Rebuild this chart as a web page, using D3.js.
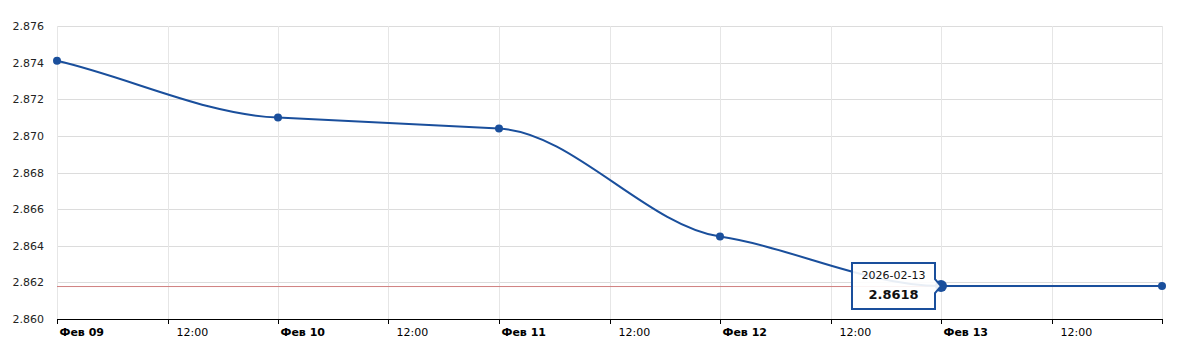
<!DOCTYPE html>
<html>
<head>
<meta charset="utf-8">
<script src="https://cdn.jsdelivr.net/npm/d3@7"></script>
<style>
  body { margin: 0; background: #fff; }
  text { font-family: "DejaVu Sans", Verdana, sans-serif; }
</style>
</head>
<body>
<script>
const dates = ['2026-02-09', '2026-02-10', '2026-02-11', '2026-02-12', '2026-02-13', '2026-02-14'];
const rates = [2.8741, 2.8710, 2.8704, 2.8645, 2.8618, 2.8618];
const yTicks = [2.860, 2.862, 2.864, 2.866, 2.868, 2.870, 2.872, 2.874, 2.876];
const months = ['Янв', 'Фев', 'Мар', 'Апр', 'Май', 'Июн', 'Июл', 'Авг', 'Сен', 'Окт', 'Ноя', 'Дек'];
const selected = 4;

const width = 1186;
const height = 343;
const margin = { top: 26, right: 24, bottom: 24, left: 57 };

const parse = d3.utcParse('%Y-%m-%d');
const data = dates.map((d, i) => ({ date: parse(d), value: rates[i] }));

const svg = d3.select('body').append('svg')
  .attr('width', width)
  .attr('height', height);

const x = d3.scaleUtc()
  .domain(d3.extent(data, d => d.date))
  .range([margin.left, width - margin.right]);

const y = d3.scaleLinear()
  .domain([yTicks[0], yTicks[yTicks.length - 1]])
  .range([height - margin.bottom, margin.top]);

const xTicks = d3.utcHour.every(12).range(x.domain()[0], d3.utcHour.offset(x.domain()[1], 1));

// soft spline: small tangents at inner points, chord-ish tangents at the ends
function softCurve(context) {
  let pts;
  return {
    areaStart() {}, areaEnd() {},
    lineStart() { pts = []; },
    point(px, py) { pts.push([px, py]); },
    lineEnd() {
      const n = pts.length;
      const s = [];
      for (let i = 0; i < n - 1; i++) s.push((pts[i + 1][1] - pts[i][1]) / (pts[i + 1][0] - pts[i][0]));
      const m = pts.map((p, i) => {
        if (i === 0) return s[0] * 0.9;
        if (i === n - 1) return s[n - 2] * 0.5;
        const a = s[i - 1], b = s[i];
        if (a * b <= 0) return 0;
        return 0.5 * 2 * a * b / (a + b);
      });
      context.moveTo(pts[0][0], pts[0][1]);
      for (let i = 0; i < n - 1; i++) {
        const h = (pts[i + 1][0] - pts[i][0]) / 3;
        context.bezierCurveTo(
          pts[i][0] + h, pts[i][1] + m[i] * h,
          pts[i + 1][0] - h, pts[i + 1][1] - m[i + 1] * h,
          pts[i + 1][0], pts[i + 1][1]);
      }
    }
  };
}

// grid
svg.append('g')
  .selectAll('line')
  .data(yTicks)
  .join('line')
  .attr('x1', margin.left)
  .attr('x2', width - margin.right)
  .attr('y1', d => Math.round(y(d)) + 0.5)
  .attr('y2', d => Math.round(y(d)) + 0.5)
  .attr('stroke', '#dcdcdc');

svg.append('g')
  .selectAll('line')
  .data(xTicks)
  .join('line')
  .attr('x1', d => Math.round(x(d)) + 0.5)
  .attr('x2', d => Math.round(x(d)) + 0.5)
  .attr('y1', margin.top)
  .attr('y2', height - margin.bottom)
  .attr('stroke', '#e6e6e6');

// y labels
svg.append('g')
  .selectAll('text')
  .data(yTicks)
  .join('text')
  .attr('x', margin.left - 13)
  .attr('y', d => y(d) + 4)
  .attr('text-anchor', 'end')
  .attr('font-size', 11)
  .attr('fill', '#222')
  .text(d => d.toFixed(3));

// x axis
const xAxis = svg.append('g')
  .attr('transform', `translate(0, ${height - margin.bottom})`);

xAxis.append('line')
  .attr('x1', margin.left)
  .attr('x2', width - margin.right)
  .attr('y1', 0.5)
  .attr('y2', 0.5)
  .attr('stroke', '#000');

const xt = xAxis.selectAll('.tick')
  .data(xTicks)
  .join('g')
  .attr('class', 'tick')
  .attr('transform', d => `translate(${Math.round(x(d)) + 0.5}, 0)`);

xt.append('line')
  .attr('y1', 0)
  .attr('y2', 5)
  .attr('stroke', '#000');

xt.filter(d => d < x.domain()[1])
  .append('text')
  .attr('x', d => d.getUTCHours() === 0 ? 2 : 8)
  .attr('y', 17)
  .attr('font-size', 11)
  .attr('font-weight', d => d.getUTCHours() === 0 ? 'bold' : 'normal')
  .attr('fill', '#000')
  .text(d => d.getUTCHours() === 0
    ? `${months[d.getUTCMonth()]} ${String(d.getUTCDate()).padStart(2, '0')}`
    : '12:00');

// crosshair at selected value
svg.append('line')
  .attr('x1', margin.left)
  .attr('x2', width - margin.right)
  .attr('y1', y(rates[selected]) + 0.5)
  .attr('y2', y(rates[selected]) + 0.5)
  .attr('stroke', '#d08080')
  .attr('stroke-width', 1);

// line
const line = d3.line()
  .x(d => x(d.date))
  .y(d => y(d.value))
  .curve(softCurve);

svg.append('path')
  .datum(data)
  .attr('d', line)
  .attr('fill', 'none')
  .attr('stroke', '#1a4f9c')
  .attr('stroke-width', 2);

svg.append('g')
  .selectAll('circle')
  .data(data)
  .join('circle')
  .attr('cx', d => x(d.date))
  .attr('cy', d => y(d.value))
  .attr('r', (d, i) => i === selected ? 6 : 4)
  .attr('fill', '#1a4f9c');

// tooltip
const sx = x(data[selected].date);
const sy = y(data[selected].value);
const tw = 83, th = 46;
const tx = sx - 89, ty = sy - 23;

const tip = svg.append('g');
tip.append('path')
  .attr('d', `M${tx},${ty} h${tw} v${th / 2 - 7} l6,7 l-6,7 v${th / 2 - 7} h${-tw} Z`)
  .attr('fill', '#fff')
  .attr('fill-opacity', 0.9)
  .attr('stroke', '#1a4f9c')
  .attr('stroke-width', 2);

tip.append('text')
  .attr('x', tx + tw / 2)
  .attr('y', ty + 16)
  .attr('text-anchor', 'middle')
  .attr('font-size', 11)
  .attr('fill', '#111')
  .text(dates[selected]);

tip.append('text')
  .attr('x', tx + tw / 2)
  .attr('y', ty + 36)
  .attr('text-anchor', 'middle')
  .attr('font-size', 13)
  .attr('font-weight', 'bold')
  .attr('fill', '#111')
  .text(rates[selected].toFixed(4));
</script>
</body>
</html>
